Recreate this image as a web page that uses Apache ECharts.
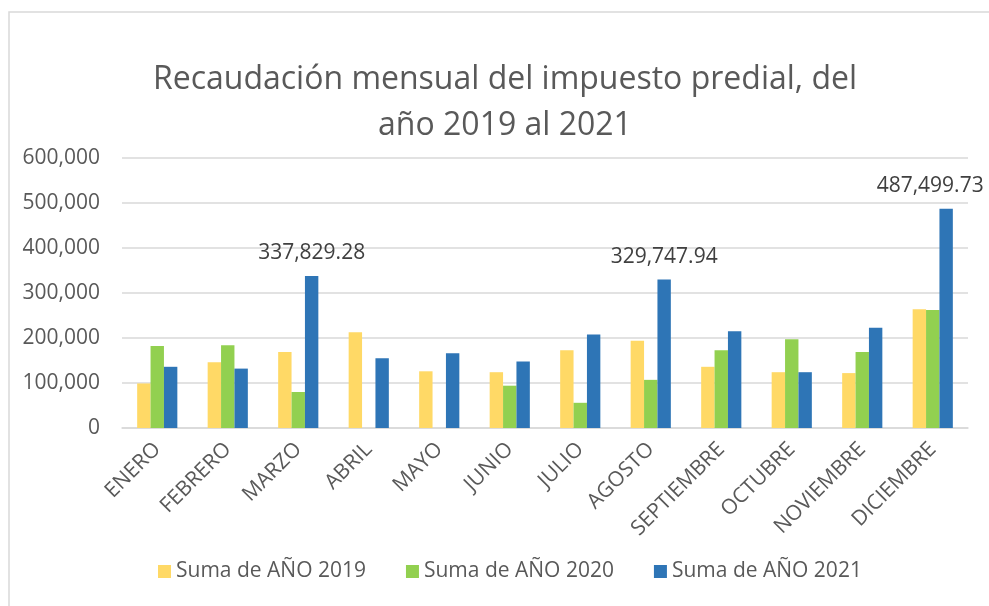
<!DOCTYPE html>
<html>
<head>
<meta charset="utf-8">
<script src="https://cdn.jsdelivr.net/npm/echarts@6/dist/echarts.min.js"></script>
<style>
  html, body { margin: 0; padding: 0; background: #fff; }
  #chart { width: 989px; height: 606px; }
</style>
</head>
<body>
<div id="chart"></div>
<script>
const months = [
  "ENERO", "FEBRERO", "MARZO", "ABRIL", "MAYO", "JUNIO",
  "JULIO", "AGOSTO", "SEPTIEMBRE", "OCTUBRE", "NOVIEMBRE", "DICIEMBRE",
];
const year2019 = [99000, 146000, 169000, 213000, 126000, 124000, 173000, 194000, 136000, 124000, 122000, 264000];
const year2020 = [182000, 184000, 80000, null, null, 94000, 56000, 107000, 173000, 197000, 169000, 262000];
const year2021 = [136000, 132000, 337829.28, 155000, 166000, 148000, 208000, 329747.94, 215000, 124000, 223000, 487499.73];
// bars of 2021 that carry a value label
const labelled2021 = [2, 7, 11];
const yTicks = [0, 100000, 200000, 300000, 400000, 500000, 600000];

const font = "'Open Sans', 'Noto Sans', sans-serif";
const textColor = "#595959";

const chart = echarts.init(document.getElementById("chart"));

const fmt = (v) =>
  v.toLocaleString("en-US", { minimumFractionDigits: 2, maximumFractionDigits: 2 });

const data2021 = year2021.map((v, i) =>
  labelled2021.includes(i)
    ? {
        value: v,
        label: {
          show: true,
          position: "top",
          distance: 12,
          // last label is pushed left so it stays inside the frame
          offset: i === year2021.length - 1 ? [-16, 0] : [0, 0],
          formatter: (p) => fmt(p.value),
          fontFamily: font,
          fontSize: 21,
          color: "#404040",
        },
      }
    : v
);

const option = {
  animation: false,
  backgroundColor: "#fff",
  graphic: [
    {
      type: "rect",
      shape: { x: 9, y: 12, width: 1000, height: 700 },
      style: { fill: "none", stroke: "#d9d9d9", lineWidth: 1.5 },
      silent: true,
    },
  ],
  title: {
    text: "Recaudación mensual del impuesto predial, del\naño 2019 al 2021",
    left: 500,
    textAlign: "center",
    top: 52,
    textStyle: {
      fontFamily: font,
      fontSize: 32,
      fontWeight: "normal",
      color: textColor,
      lineHeight: 46,
    },
  },
  legend: {
    left: 153,
    top: 556,
    itemWidth: 13,
    itemHeight: 13,
    itemGap: 40,
    icon: "rect",
    textStyle: { fontFamily: font, fontSize: 21, color: textColor },
    data: ["Suma de AÑO 2019", "Suma de AÑO 2020", "Suma de AÑO 2021"],
  },
  grid: { left: 122, right: 21, top: 158, bottom: 178 },
  xAxis: {
    type: "category",
    data: months,
    axisLine: { lineStyle: { color: "#d9d9d9", width: 1.5 } },
    axisTick: { show: false },
    axisLabel: {
      rotate: 45,
      margin: 18,
      interval: 0,
      fontFamily: font,
      fontSize: 21,
      color: textColor,
    },
  },
  yAxis: {
    type: "value",
    min: yTicks[0],
    max: yTicks[yTicks.length - 1],
    interval: yTicks[1] - yTicks[0],
    axisLine: { show: false },
    axisTick: { show: false },
    splitLine: { lineStyle: { color: "#d9d9d9", width: 1.5 } },
    axisLabel: {
      margin: 22,
      fontFamily: font,
      fontSize: 21,
      color: textColor,
      formatter: (v) => v.toLocaleString("en-US"),
    },
  },
  series: [
    {
      name: "Suma de AÑO 2019",
      type: "bar",
      data: year2019,
      barGap: "0%",
      barCategoryGap: "43%",
      itemStyle: { color: "#FFD966" },
    },
    {
      name: "Suma de AÑO 2020",
      type: "bar",
      data: year2020,
      itemStyle: { color: "#92D050" },
    },
    {
      name: "Suma de AÑO 2021",
      type: "bar",
      data: data2021,
      itemStyle: { color: "#2E75B6" },
    },
  ],
};

chart.setOption(option);
</script>
</body>
</html>
